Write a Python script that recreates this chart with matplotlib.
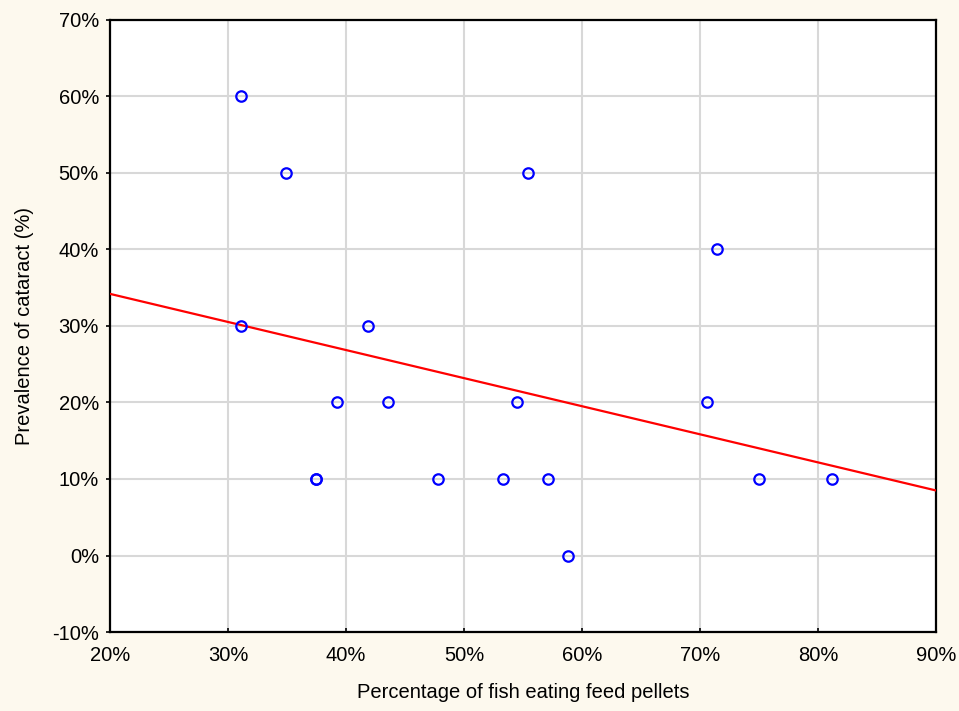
import numpy as np
import matplotlib.pyplot as plt
import matplotlib.ticker as mticker

# fish eating pellets (%) vs cataract prevalence (%)
pellet_pct = [31.1, 34.9, 55.4, 71.4, 31.1, 41.9, 39.2, 43.6, 54.5, 70.6,
              37.5, 37.5, 47.8, 53.3, 57.1, 75.0, 81.2, 58.8]
cataract_pct = [60, 50, 50, 40, 30, 30, 20, 20, 20, 20,
                10, 10, 10, 10, 10, 10, 10, 0]

# regression line read at the axis ends
fit_x = [20, 90]
fit_y = [34.2, 8.5]

x_ticks = [20, 30, 40, 50, 60, 70, 80, 90]
y_ticks = [-10, 0, 10, 20, 30, 40, 50, 60, 70]

bg = '#FDF9EE'
plt.rcParams['font.family'] = ['Liberation Sans', 'DejaVu Sans']
fs = 14.5

fig = plt.figure(figsize=(9.59, 7.11), dpi=100)
fig.set_facecolor(bg)
ax = fig.add_axes([110/959, 1-632/711, 826/959, 612/711])
ax.set_facecolor('white')

ax.plot(fit_x, fit_y, '-', color='#FF0000', linewidth=1.6, zorder=3)
ax.plot(pellet_pct, cataract_pct, 'o', mfc='none', mec='#0000FF',
        ms=7.5, mew=1.6, zorder=4)

ax.set_xlim(20, 90)
ax.set_ylim(-10, 70)
ax.set_xticks(x_ticks)
ax.set_yticks(y_ticks)
ax.xaxis.set_major_formatter(mticker.FormatStrFormatter('%d%%'))
ax.yaxis.set_major_formatter(mticker.FormatStrFormatter('%d%%'))
ax.grid(True, color='#D8D8D8', linewidth=1.5, zorder=0)
ax.set_axisbelow(True)

for s in ax.spines.values():
    s.set_color('black')
    s.set_linewidth(1.6)

ax.tick_params(axis='y', direction='out', length=3, width=1.2, labelsize=fs, pad=5)
ax.tick_params(axis='x', direction='in', length=3, width=1.2, labelsize=fs, pad=10)

ax.set_xlabel('Percentage of fish eating feed pellets', fontsize=fs, labelpad=13)
ax.set_ylabel('Prevalence of cataract (%)', fontsize=fs, labelpad=13)

fig.savefig('out.png', dpi=100, facecolor=bg)
